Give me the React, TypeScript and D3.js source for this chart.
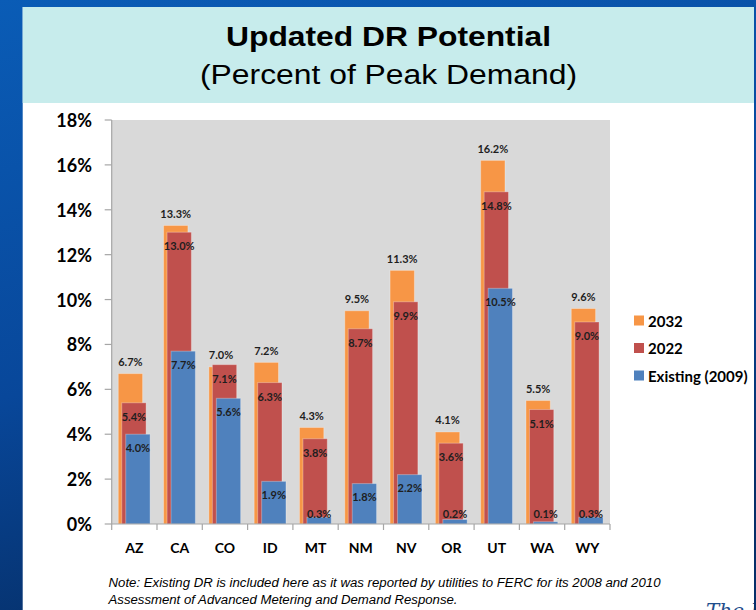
import React from 'react';
import * as d3 from 'd3';

// états de l'ouest
const states = ['AZ', 'CA', 'CO', 'ID', 'MT', 'NM', 'NV', 'OR', 'UT', 'WA', 'WY'];
const dr2032 = [6.7, 13.3, 7.0, 7.2, 4.3, 9.5, 11.3, 4.1, 16.2, 5.5, 9.6];
const dr2022 = [5.4, 13.0, 7.1, 6.3, 3.8, 8.7, 9.9, 3.6, 14.8, 5.1, 9.0];
const existing2009 = [4.0, 7.7, 5.6, 1.9, 0.3, 1.8, 2.2, 0.2, 10.5, 0.1, 0.3];
const yTicks = [0, 2, 4, 6, 8, 10, 12, 14, 16, 18];
const seriesNames = ['2032', '2022', 'Existing (2009)'];

const W = 756;
const H = 610;
const plot = { left: 111.7, right: 610, top: 120, bottom: 524 };
const colors = ['#F79646', '#C0504D', '#4F81BD'];
const font = 'Lato, "Open Sans", sans-serif';

const App: React.FC = () => {
  const x = d3.scaleBand<string>().domain(states).range([plot.left, plot.right]).padding(0);
  const y = d3.scaleLinear().domain([0, 18]).range([plot.bottom, plot.top]);
  const bw = x.bandwidth();
  const barW = bw * 0.537;
  const offsets = [0.145, 0.222, 0.31];
  const series = [dr2032, dr2022, existing2009];

  const labelY = (si: number, v: number) => {
    const top = y(v);
    if (si === 0) return top - 12;
    if (si === 1) return top + 13.5;
    return Math.min(top + 13, 513);
  };

  return (
    <svg width={W} height={H} style={{ position: 'absolute', left: 0, top: 0, display: 'block' }}>
      <defs>
        <linearGradient id="slide" x1="0" y1="0" x2="0.3" y2="1">
          <stop offset="0%" stopColor="#0A5CB6" />
          <stop offset="60%" stopColor="#08479A" />
          <stop offset="100%" stopColor="#06306A" />
        </linearGradient>
        <clipPath id="panel">
          <rect x={22.7} y={7} width={754 - 22.7} height={H - 7} />
        </clipPath>
      </defs>

      {/* fond de la diapositive */}
      <rect width={W} height={H} fill="url(#slide)" />
      <rect x={22.7} y={7} width={754 - 22.7} height={H - 7} fill="#FFFFFF" />
      <rect x={22.7} y={7} width={754 - 22.7} height={96} fill="#C7ECEC" />

      {/* titre */}
      <text x={388.5} y={46} textAnchor="middle" fontFamily="'Liberation Sans', Arial, sans-serif"
        fontWeight="bold" fontSize={28} textLength={325} lengthAdjust="spacingAndGlyphs" fill="#000">
        Updated DR Potential
      </text>
      <text x={388.5} y={83.5} textAnchor="middle" fontFamily="'Liberation Sans', Arial, sans-serif"
        fontSize={27} textLength={377} lengthAdjust="spacingAndGlyphs" fill="#000">
        (Percent of Peak Demand)
      </text>

      {/* zone de traçage */}
      <rect x={plot.left} y={plot.top} width={plot.right - plot.left} height={plot.bottom - plot.top} fill="#D9D9D9" />

      {/* barres */}
      {series.map((vals, si) => (
        <g key={si}>
          {vals.map((v, i) => (
            <rect key={states[i]}
              x={(x(states[i]) as number) + bw * offsets[si]}
              y={y(v)}
              width={barW}
              height={y(0) - y(v)}
              fill={colors[si]}
              stroke="rgba(255,255,255,0.3)"
              strokeWidth={1} />
          ))}
        </g>
      ))}

      {/* étiquettes */}
      {series.map((vals, si) => (
        <g key={'l' + si}>
          {vals.map((v, i) => (
            <text key={states[i]}
              x={(x(states[i]) as number) + bw * offsets[si] + barW / 2}
              y={labelY(si, v)}
              textAnchor="middle" dominantBaseline="central"
              fontFamily={font} fontWeight="bold" fontSize={11} fill="#1E1E1E">
              {v.toFixed(1)}%
            </text>
          ))}
        </g>
      ))}

      {/* axe Y */}
      <line x1={plot.left} x2={plot.left} y1={plot.top} y2={plot.bottom} stroke="#A6A6A6" strokeWidth={1.2} />
      {yTicks.map(t => (
        <g key={t}>
          <line x1={plot.left - 7} x2={plot.left} y1={y(t)} y2={y(t)} stroke="#A6A6A6" strokeWidth={1.2} />
          <text x={92} y={y(t)} textAnchor="end" dominantBaseline="central"
            fontFamily={font} fontWeight="bold" fontSize={18} fill="#000">
            {t}%
          </text>
        </g>
      ))}

      {/* axe X */}
      <line x1={plot.left} x2={plot.right} y1={plot.bottom} y2={plot.bottom} stroke="#A6A6A6" strokeWidth={1.2} />
      {[...states.map(s => x(s) as number), plot.right].map((px, i) => (
        <line key={i} x1={px} x2={px} y1={plot.bottom} y2={plot.bottom + 6} stroke="#A6A6A6" strokeWidth={1.2} />
      ))}
      {states.map(s => (
        <text key={s} x={(x(s) as number) + bw / 2} y={547.5} textAnchor="middle" dominantBaseline="central"
          fontFamily={font} fontWeight="bold" fontSize={14} fill="#000">
          {s}
        </text>
      ))}

      {/* légende */}
      {seriesNames.map((n, i) => (
        <g key={n} transform={`translate(634,${320.5 + i * 27.5})`}>
          <rect x={0} y={-5} width={10} height={10} fill={colors[i]} />
          <text x={14} y={0} dominantBaseline="central" fontFamily={font} fontWeight="bold" fontSize={15} fill="#000">
            {n}
          </text>
        </g>
      ))}

      {/* note */}
      <g fontFamily="'Liberation Sans', Arial, sans-serif" fontStyle="italic" fontSize={12.5} fill="#000">
        <text x={108.5} y={587} textLength={552} lengthAdjust="spacingAndGlyphs">
          Note: Existing DR is included here as it was reported by utilities to FERC for its 2008 and 2010
        </text>
        <text x={108.5} y={604} textLength={349} lengthAdjust="spacingAndGlyphs">
          Assessment of Advanced Metering and Demand Response.
        </text>
      </g>
      <g clipPath="url(#panel)">
        <text x={706} y={618} fontFamily="'DejaVu Serif', serif" fontStyle="italic" fontSize={20} fill="#1F4E8C">
          The Brattle
        </text>
      </g>
    </svg>
  );
};

export default App;
